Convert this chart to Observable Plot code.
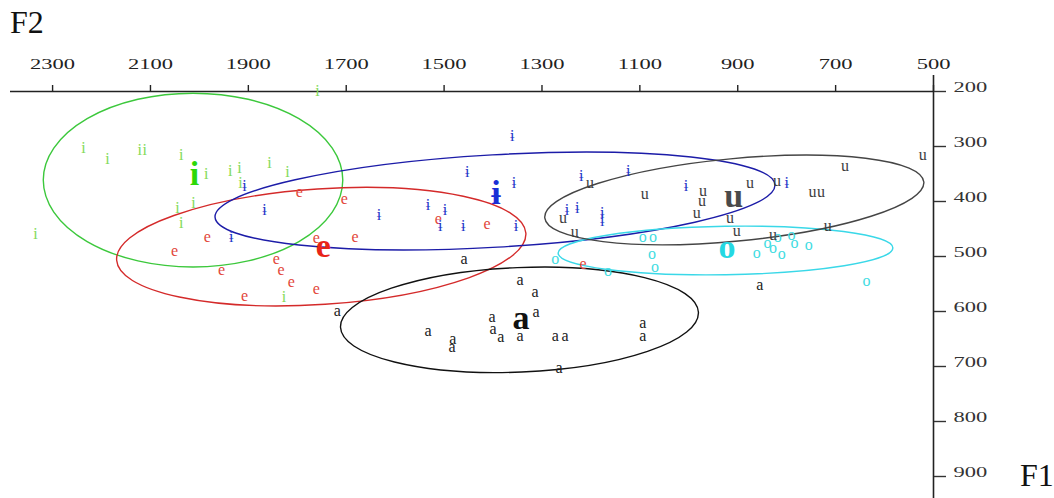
<!DOCTYPE html>
<html><head><meta charset="utf-8">
<script src="https://cdn.jsdelivr.net/npm/d3@7"></script>
<script src="https://cdn.jsdelivr.net/npm/@observablehq/plot@0.6"></script>
<style>
body{margin:0;background:#fff;}
#wrap{position:relative;width:1054px;height:498px;overflow:hidden;}
.lab{position:absolute;font-family:"Liberation Serif",serif;font-size:32px;color:#111;line-height:1;}
</style></head><body>
<div id="wrap"><div class="lab" style="left:10px;top:6px">F2</div><div class="lab" style="left:1020px;top:459px">F1</div></div>
<script>
const xTicks = [2300,2100,1900,1700,1500,1300,1100,900,700,500];
const yTicks = [200,300,400,500,600,700,800,900];
const vowels = ["i","e","ɨ","a","o","u"];

const iF2 = [2237,2188,2122,2112,2037,1986,1937,1918,1857,1820,1916,2012,2045,2037,2335,1759,1827];
const iF1 = [302,322,307,307,316,349,345,338,329,347,367,402,411,438,458,198,573];
const eF2 = [1796,1704,1984,2051,1955,1843,1833,1812,1908,1761,1761,1682,1512,1412,1216];
const eF1 = [382,396,464,489,524,504,524,547,571,558,467,465,431,440,513];
const barF2 = [1361,1453,1357,1220,1124,1006,800,1908,1867,1633,1533,1498,1508,1461,1353,1935,1249,1228,1177,1177];
const barF1 = [280,347,367,353,344,371,367,371,416,424,407,415,445,444,444,464,415,411,420,436];
const aF2 = [1459,1345,1314,1312,1402,1718,1533,1482,1484,1400,1384,1345,1273,1253,1094,1094,1265,855];
const aF1 = [504,542,565,600,609,598,636,649,665,631,647,645,645,644,620,644,702,551];
const oF2 = [1094,1073,1075,1069,1273,1165,861,839,828,818,810,790,784,755,637];
const oF1 = [464,465,495,518,504,527,493,475,485,465,495,460,476,478,545];
const uF2 = [1202,1090,971,973,875,820,747,730,681,522,1257,984,916,1233,902,828,716];
const uF1 = [367,387,380,398,367,362,382,382,335,316,429,420,429,456,453,460,444];

const meanF2 = [2010,1747,1394,1343,922,908];
const meanF1 = [356,487,391,618,489,395];

const ellCx = [2012,1750,1395,1345,924,906];
const ellCy = [362,483,400,616,490,398];
const ellRx = [306,419,573,366,342,389];
const ellRy = [158,105,84,95,44,75];
const ellAngle = [0,-3.8,-3.3,-2.4,-0.9,-5.4];

const pointColors = ["#84da58","#e2463a","#2434c8","#222222","#3fdce2","#3e3e3e"];
const meanColors = ["#2cd808","#e82418","#1a2ed6","#111111","#24d8e2","#4a4a4a"];
const ellipseColors = ["#3cc83c","#d42a2a","#1c1ca8","#111111","#3ad8e8","#454545"];

const F2s = [iF2,eF2,barF2,aF2,oF2,uF2];
const F1s = [iF1,eF1,barF1,aF1,oF1,uF1];
const groups = vowels.map((v,k)=>F2s[k].map((f2,j)=>({v, F2:f2, F1:F1s[k][j]})));
const means = vowels.map((v,k)=>({v, F2:meanF2[k], F1:meanF1[k], k}));
const ells = vowels.map((v,k)=>({v, cx:ellCx[k], cy:ellCy[k], rx:ellRx[k], ry:ellRy[k], a:ellAngle[k], c:ellipseColors[k]}));
const axisTopF1 = 171;

function ellipseMark(index, scales) {
  const g = d3.create("svg:g").attr("aria-label","ellipses");
  for (const e of ells) {
    const cx = scales.x(e.cx), cy = scales.y(e.cy);
    const rx = Math.abs(scales.x(e.cx + e.rx) - cx);
    const ry = Math.abs(scales.y(e.cy + e.ry) - cy);
    g.append("ellipse").attr("cx",cx).attr("cy",cy).attr("rx",rx).attr("ry",ry)
      .attr("transform",`rotate(${e.a} ${cx} ${cy})`)
      .attr("fill","none").attr("stroke",e.c).attr("stroke-width",1.4);
  }
  return g.node();
}

const plot = Plot.plot({
  width: 1054, height: 498,
  marginTop: 91, marginLeft: 10, marginRight: 121, marginBottom: 0,
  style: {fontFamily: "'Liberation Serif', 'DejaVu Serif', serif", background: "transparent"},
  x: {domain: [2386, 500]},
  y: {domain: [200, 940], reverse: true},
  marks: [
    Plot.ruleY([200], {stroke: "#222", strokeWidth: 1.6}),
    Plot.ruleX([500], {y1: axisTopF1, y2: 940, stroke: "#222", strokeWidth: 1.6}),
    Plot.axisX(xTicks, {anchor: "top", tickSize: 7, tickPadding: 16, fontSize: 15, label: null, color: "#222", strokeWidth: 1.4, fontFamily: "Liberation Serif", tickFormat: d => String(d)}),
    Plot.axisY(yTicks, {anchor: "right", tickSize: 12, tickPadding: 8, fontSize: 15, label: null, color: "#333", strokeWidth: 1.4, fontFamily: "Liberation Serif", tickFormat: d => String(d)}),
    ellipseMark,
    ...groups.map((g,k)=>Plot.text(g, {x: "F2", y: "F1", text: "v", fill: pointColors[k], fontSize: 16, fontFamily: "Liberation Serif, DejaVu Serif"})),
    ...means.map((m)=>Plot.text([m], {x: "F2", y: "F1", text: "v", fill: meanColors[m.k], fontSize: 34, fontWeight: "bold", dy: -3, fontFamily: "Liberation Serif, DejaVu Serif"}))
  ]
});

plot.querySelectorAll('[aria-label$="tick label"] text').forEach(el=>{
  const x = +el.getAttribute("x")||0, y = +el.getAttribute("y")||0;
  el.removeAttribute("x"); el.removeAttribute("y");
  const t = el.getAttribute("transform")||"";
  el.setAttribute("transform", `${t} translate(${x},${y}) scale(1.5,1)`);
});
plot.style.position = "absolute"; plot.style.left = "0"; plot.style.top = "0";
document.getElementById("wrap").prepend(plot);
</script>
</body></html>
